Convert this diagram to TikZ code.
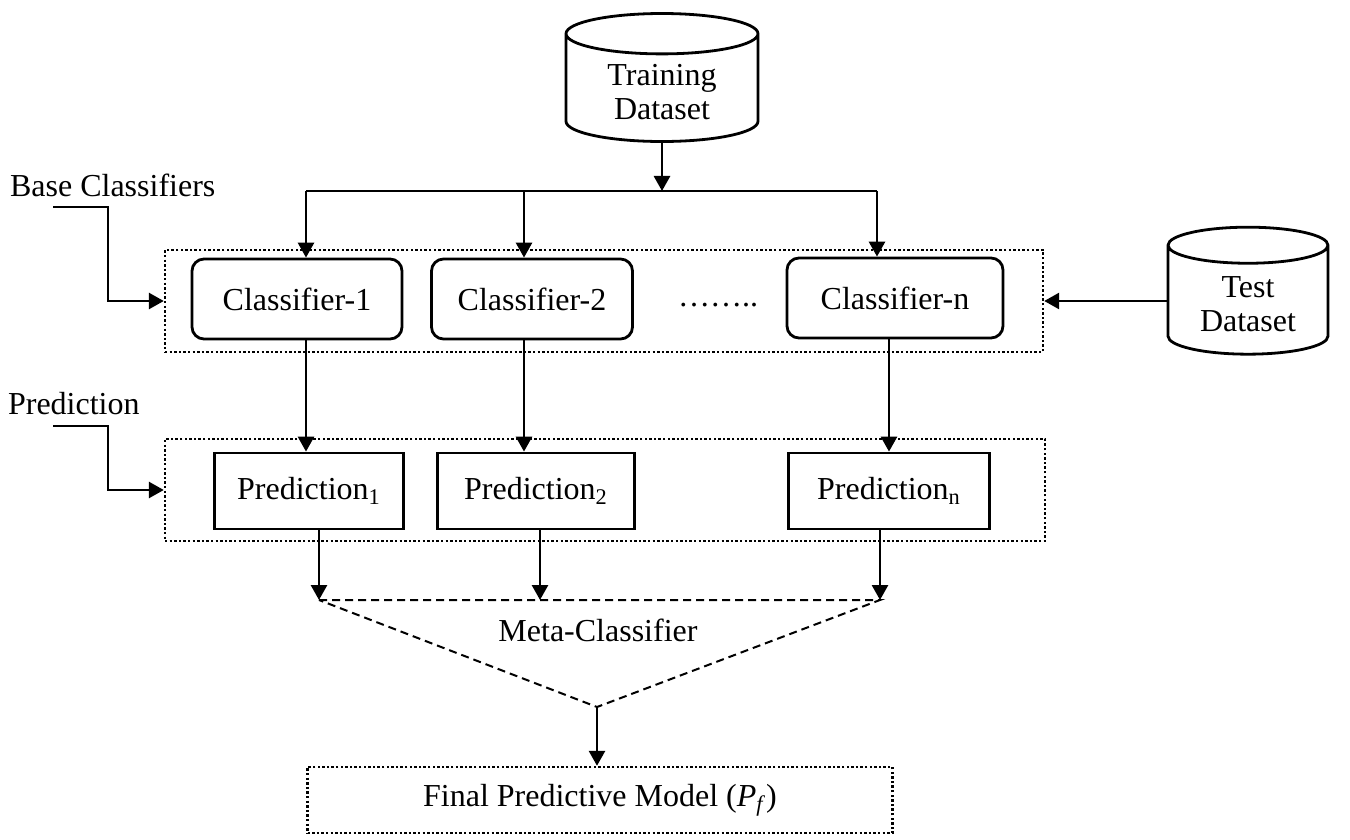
\documentclass[tikz,border=0pt]{standalone}
\usepackage{fontspec}
\setmainfont{Liberation Serif}
\usetikzlibrary{arrows.meta, positioning, shapes.geometric, calc}

\begin{document}
\begin{tikzpicture}[x=0.5pt, y=-0.5pt,
        every node/.style={font=\fontsize{16}{19}\selectfont},
        arrow/.style={-{Triangle[length=7.5pt, width=8pt]}, line width=1.4pt},
        link/.style={line width=1.4pt},
        classbox/.style={rectangle, rounded corners=6pt, draw, line width=1.4pt,
                         minimum height=40pt, align=center},
        predbox/.style={rectangle, draw, line width=1.4pt, minimum height=38pt},
        groupbox/.style={rectangle, draw, line width=1.2pt,
                         dash pattern=on 1.2pt off 1.1pt, minimum height=51pt},
        dataset/.style={cylinder, shape border rotate=90, draw, line width=1.4pt,
                        aspect=0.33, align=center, font=\fontsize{16}{17}\selectfont},
        meta/.style={line width=1pt, dash pattern=on 4pt off 2.5pt},
    ]
        \useasboundingbox (0,0) rectangle (1350,840);

        % data sources
        \node[dataset, minimum width=96pt, minimum height=64pt] (train) at (662,92) {Training\\Dataset};
        \node[dataset, minimum width=80pt, minimum height=63.5pt] (test) at (1248,304) {Test\\Dataset};

        % base classifiers
        \node[groupbox, minimum width=439pt] (cgroup) at (604,301) {};
        \node[classbox, minimum width=105pt] (c1) at (297,299) {Classifier-1};
        \node[classbox, minimum width=100.5pt] (c2) at (532,299) {Classifier-2};
        \node[classbox, minimum width=108pt] (cn) at (895,298) {Classifier-n};
        \node[anchor=base] (cdots) at (718,306) {……..};

        % predictions
        \node[groupbox, minimum width=440pt] (pgroup) at (605,490) {};
        \node[predbox, minimum width=94.5pt] (p1) at (309,491) {Prediction\textsubscript{1}};
        \node[predbox, minimum width=98.5pt] (p2) at (536,491) {Prediction\textsubscript{2}};
        \node[predbox, minimum width=100.5pt] (pn) at (889,491) {Prediction\textsubscript{n}};

        % side labels
        \node[anchor=west] (baselbl) at (3,185) {Base Classifiers};
        \node[anchor=west] (predlbl) at (1,404) {Prediction};
        \coordinate (bstart) at (53,207);
        \coordinate (pstart) at (53,426);
        \draw[arrow] (bstart) -- ++(55,0) |- (cgroup.west);
        \draw[arrow] (pstart) -- ++(55,0) |- (pgroup.west);

        % training data to classifiers
        \coordinate (split) at (662,191);
        \coordinate (s1) at (306,191);
        \coordinate (s2) at (524,191);
        \coordinate (sn) at (877,191);
        \draw[arrow] (train.south) -- (train.south |- split);
        \draw[link] (s1) -- (sn);
        \draw[arrow] (s1) -- (s1 |- c1.north);
        \draw[arrow] (s2) -- (s2 |- c2.north);
        \draw[arrow] (sn) -- (sn |- cn.north);
        \draw[arrow] (test.west |- cgroup.east) -- (cgroup.east);

        % classifiers to predictions
        \draw[arrow] (s1 |- c1.south) -- (s1 |- p1.north);
        \draw[arrow] (s2 |- c2.south) -- (s2 |- p2.north);
        \draw[arrow] (pn.north |- cn.south) -- (pn.north);

        % meta-classifier
        \coordinate (m1) at (319,600);
        \coordinate (m2) at (540,600);
        \coordinate (mn) at (880,600);
        \coordinate (apex) at (597,707);
        \draw[arrow] (m1 |- p1.south) -- (m1);
        \draw[arrow] (m2 |- p2.south) -- (m2);
        \draw[arrow] (mn |- pn.south) -- (mn);
        \draw[meta] (m1) -- (mn) -- (apex) -- cycle;
        \node (metalbl) at (598,630) {Meta-Classifier};

        % final model
        \node[groupbox, minimum width=292.5pt, minimum height=33pt] (final) at (600,800)
            {Final Predictive Model (\textit{P}\textsubscript{\textit{f}})};
        \draw[arrow] (apex) -- (apex |- final.north);
    \end{tikzpicture}
\end{document}
